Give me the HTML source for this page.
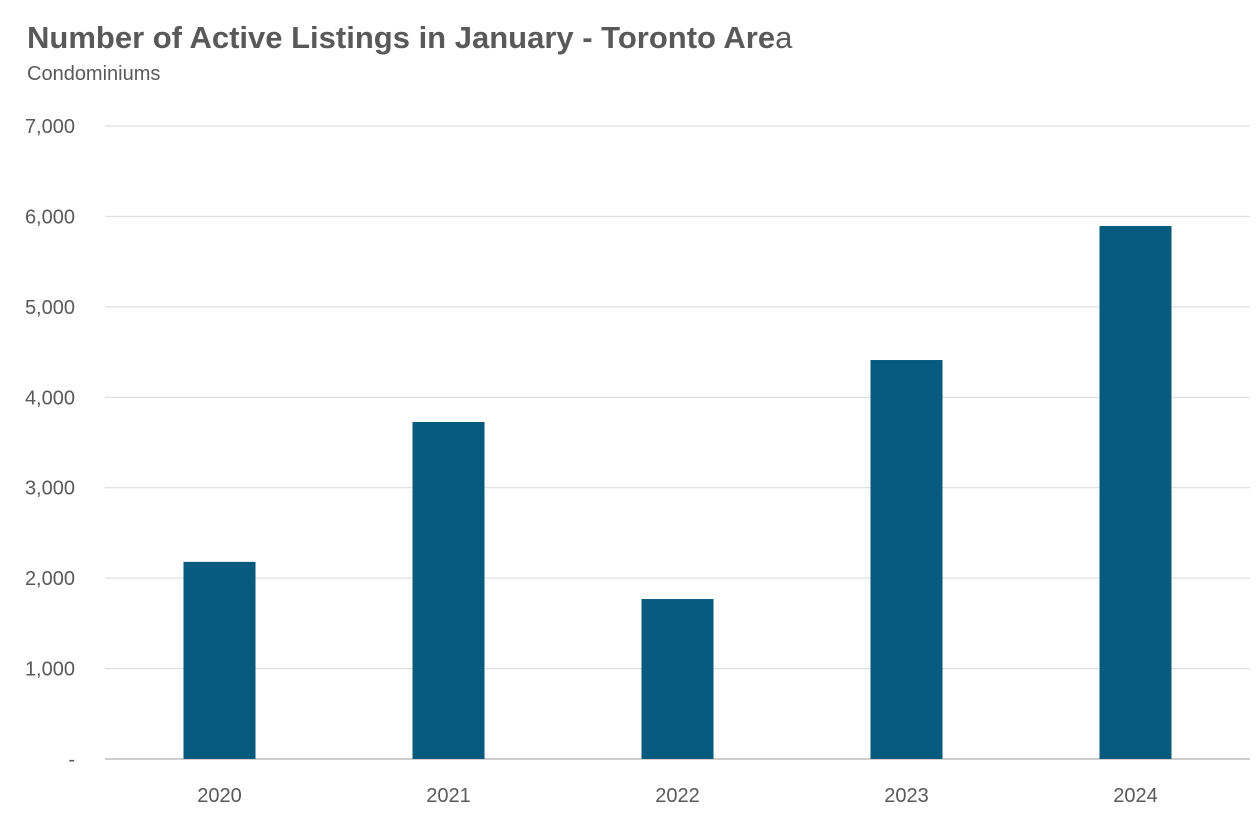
<!DOCTYPE html>
<html><head><meta charset="utf-8"><style>
body{margin:0;background:#fff;}
svg{display:block;font-family:"Liberation Sans",sans-serif;}
</style></head><body>
<svg id="chart" width="1257" height="817">
<text x="27" y="48" font-size="31" font-weight="bold" fill="#595959">Number of Active Listings in January - Toronto Are<tspan font-weight="normal">a</tspan></text>
<text x="27" y="80" font-size="20" fill="#595959">Condominiums</text>
<g id="grid"></g><g id="bars"></g><g id="xlabels"></g>
</svg>
<script>
const categories=["2020","2021","2022","2023","2024"];
const listings=[2180,3727,1769,4412,5894];
const yTicks=[0,1000,2000,3000,4000,5000,6000,7000];
const yTickLabels=["-","1,000","2,000","3,000","4,000","5,000","6,000","7,000"];
const NS="http://www.w3.org/2000/svg";
const x0=105,x1=1250,yBase=759,yTop=126,yMax=7000;
const y=v=>yBase-(v/yMax)*(yBase-yTop);
const band=(x1-x0)/categories.length;
const xc=i=>x0+band*(i+0.5);
const bw=72;
function mk(t,a){const e=document.createElementNS(NS,t);for(const k in a)e.setAttribute(k,a[k]);return e;}
const grid=document.getElementById('grid');
yTicks.forEach((v,i)=>{
  if(v>0){const l=mk('line',{x1:x0,x2:x1,y1:y(v),y2:y(v),stroke:'#d9d9d9','stroke-width':1});
  
  
  grid.appendChild(l);}
  const t=mk('text',{x:75,y:y(v)+7,'text-anchor':'end','font-size':20,fill:'#595959'});
  t.textContent=yTickLabels[i];
  
  
  grid.appendChild(t);
});
const ax=mk('line',{x1:x0,x2:x1,y1:yBase,y2:yBase,stroke:'#bfbfbf','stroke-width':1.5});


grid.appendChild(ax);
const bars=document.getElementById('bars'),xl=document.getElementById('xlabels');
categories.forEach((c,i)=>{
  const r=mk('rect',{x:xc(i)-bw/2,y:y(listings[i]),width:bw,height:yBase-y(listings[i]),fill:'#065a7d'});
  
  
  bars.appendChild(r);
  const t=mk('text',{x:xc(i),y:802,'text-anchor':'middle','font-size':20,fill:'#595959'});
  t.textContent=c;
  
  
  xl.appendChild(t);
});
</script>
</body></html>
